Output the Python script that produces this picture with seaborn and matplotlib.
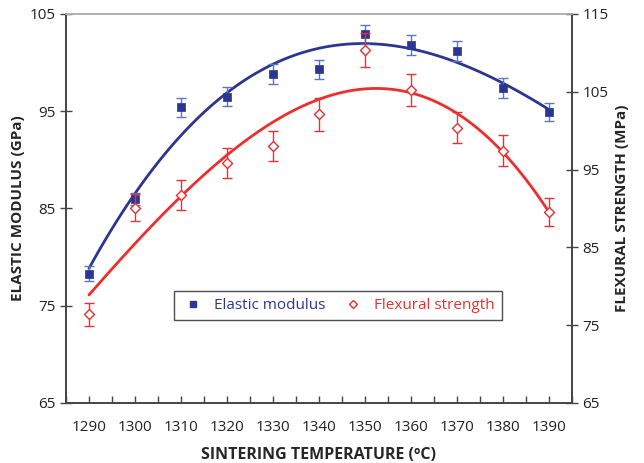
import matplotlib
matplotlib.use('Agg')
import matplotlib.pyplot as plt
from matplotlib.lines import Line2D
import numpy as np
import pandas as pd
import seaborn as sns

temps = [1290, 1300, 1310, 1320, 1330, 1340, 1350, 1360, 1370, 1380, 1390]
modulus = [78.3, 86.0, 95.4, 96.5, 98.8, 99.3, 102.9, 101.8, 101.2, 97.4, 94.9]
modulus_err = [0.75, 0.6, 0.95, 1.0, 1.0, 0.95, 1.0, 1.0, 1.0, 1.0, 0.95]
strength = [76.4, 90.1, 91.7, 95.8, 98.0, 102.1, 110.4, 105.2, 100.4, 97.4, 89.6]
strength_err = [1.5, 1.75, 1.9, 1.95, 1.95, 2.1, 2.2, 2.1, 2.0, 2.0, 1.8]

df = pd.DataFrame({'T': temps, 'E': modulus, 'Eerr': modulus_err,
                   'S': strength, 'Serr': strength_err})

blue = '#2b3592'
blue_light = '#5877bd'
red = '#ee2e2e'

sns.set_style('ticks')
plt.rcParams['font.family'] = ['Open Sans', 'DejaVu Sans']

fig, ax = plt.subplots(figsize=(6.44, 4.63), dpi=100)
fig.subplots_adjust(left=0.1025, right=0.888, bottom=0.1296, top=0.97)
ax2 = ax.twinx()

# elastic modulus on left axis
sns.regplot(x='T', y='E', data=df, order=3, ci=None, scatter=False, ax=ax,
            line_kws={'color': blue, 'lw': 2.0})
ax.errorbar(df['T'], df['E'], yerr=df['Eerr'], fmt='none', ecolor=blue_light,
            elinewidth=1.0, capsize=3.5, capthick=1.0)
sns.scatterplot(x='T', y='E', data=df, ax=ax, marker='s', s=30, color=blue,
                edgecolor=blue, linewidth=0.5, zorder=5)

# flexural strength on right axis
sns.regplot(x='T', y='S', data=df, order=3, ci=None, scatter=False, ax=ax2,
            line_kws={'color': red, 'lw': 2.0})
ax2.errorbar(df['T'], df['S'], yerr=df['Serr'], fmt='none', ecolor=red,
             elinewidth=1.0, capsize=3.5, capthick=1.0)
sns.scatterplot(x='T', y='S', data=df, ax=ax2, marker='D', s=26, color='white',
                edgecolor=red, linewidth=1.0, zorder=5)

ax.set_xlim(1285, 1395)
ax.set_ylim(65, 105)
ax2.set_ylim(65, 115)
ax.set_xticks(range(1290, 1391, 10))
ax.set_xticks(range(1285, 1396, 5), minor=True)
ax.set_yticks([65, 75, 85, 95, 105])
ax2.set_yticks([65, 75, 85, 95, 105, 115])

ax.set_xlabel('SINTERING TEMPERATURE (ºC)', fontsize=11.5, fontweight='bold', labelpad=9)
ax.set_ylabel('ELASTIC MODULUS (GPa)', fontsize=11, fontweight='bold', labelpad=3)
ax2.set_ylabel('FLEXURAL STRENGTH (MPa)', fontsize=11, fontweight='bold', labelpad=5)

spine_c = '#444444'
for a in (ax, ax2):
    for s in ('left', 'right', 'bottom'):
        a.spines[s].set_color(spine_c)
        a.spines[s].set_linewidth(1.2)
    a.spines['top'].set_color('#b0b0b0')
    a.spines['top'].set_linewidth(1.2)
ax.tick_params(axis='x', which='both', direction='in', length=5, width=1, color=spine_c,
               labelsize=11, pad=12, labelcolor='#222222')
ax.tick_params(axis='y', direction='inout', length=8, width=1, color=spine_c,
               labelsize=11, labelcolor='#222222')
ax2.tick_params(axis='y', direction='inout', length=8, width=1, color=spine_c,
                labelsize=11, labelcolor='#222222')

handles = [Line2D([], [], ls='none', marker='s', ms=5, color=blue),
           Line2D([], [], ls='none', marker='D', ms=4.5, mfc='white', mec=red, mew=1)]
leg = ax2.legend(handles, ['Elastic modulus', 'Flexural strength'], loc='center',
                 bbox_to_anchor=(0.537, 0.25), ncol=2, frameon=True, fancybox=False,
                 fontsize=11, handletextpad=0.6, columnspacing=1.0, borderpad=0.45,
                 handlelength=1.6)
leg.get_frame().set_edgecolor('#222222')
leg.get_frame().set_linewidth(1.0)
leg.get_texts()[0].set_color(blue)
leg.get_texts()[1].set_color(red)

fig.savefig('out.png', dpi=100)
